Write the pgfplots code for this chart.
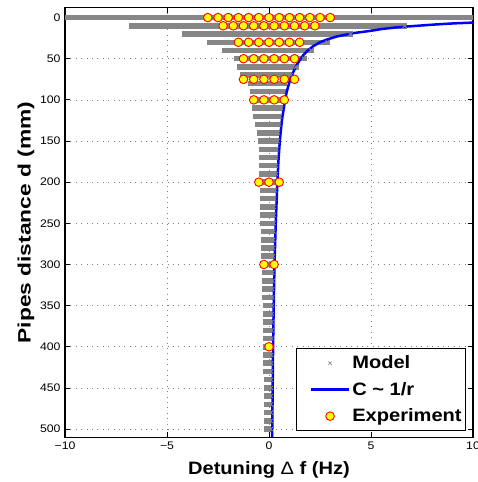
\documentclass[border=0pt]{standalone}
\usepackage{pgfplots}
\pgfplotsset{compat=1.18}
\usepackage{pgfplotstable}
\usepackage{fontspec}
\setmainfont{Liberation Sans}[FakeStretch=1.12]
\newfontfamily\ylabfont{Liberation Sans}[FakeStretch=1.27]

\definecolor{modelgray}{RGB}{134,134,134}
\definecolor{expfill}{RGB}{255,255,0}
\definecolor{expedge}{RGB}{255,0,0}

% Model: spread of simulated detuning for each pipe distance (row extent)
\pgfplotstableread{
d   lo     hi
0   -12.00 12.00
10  -6.84  6.78
20  -4.26  4.13
30  -3.04  3.00
40  -2.31  2.20
50  -1.74  1.85
60  -1.55  1.45
70  -1.41  1.19
80  -1.02  0.90
90  -0.92  0.82
100 -0.85  0.80
110 -0.84  0.72
120 -0.76  0.66
130 -0.67  0.63
140 -0.60  0.57
150 -0.53  0.55
160 -0.51  0.50
170 -0.50  0.48
180 -0.50  0.47
190 -0.48  0.47
200 -0.45  0.46
210 -0.44  0.42
220 -0.43  0.39
230 -0.43  0.37
240 -0.42  0.36
250 -0.42  0.36
260 -0.40  0.35
270 -0.40  0.34
280 -0.38  0.33
290 -0.37  0.32
300 -0.36  0.31
310 -0.35  0.30
320 -0.34  0.30
330 -0.33  0.29
340 -0.32  0.29
350 -0.31  0.28
360 -0.30  0.27
370 -0.30  0.26
380 -0.29  0.26
390 -0.29  0.25
400 -0.28  0.25
410 -0.28  0.24
420 -0.27  0.24
430 -0.27  0.23
440 -0.26  0.23
450 -0.26  0.23
460 -0.26  0.22
470 -0.25  0.22
480 -0.25  0.22
490 -0.25  0.21
500 -0.25  0.21
}\modeltab

% Fitted C ~ 1/r curve
\pgfplotstableread{
f     d
11.0  5.5
10.1  6
9.1   7
8.4   8
7.8   9
6.76  10.9
6.2   12
5.5   14
4.96  16.2
4.1   19
3.32  23
2.8   27
2.5   30
2.18  34.5
1.9   40
1.7   45
1.53  50.8
1.3   60
1.04  75
0.87  90
0.79  100
0.63  125
0.53  150
0.46  175
0.41  200
0.33  250
0.27  300
0.23  350
0.20  400
0.18  450
0.155 510
}\fittab

% Measured detuning
\pgfplotstableread{
f     d
-3.00 0
-2.50 0
-2.00 0
-1.50 0
-1.00 0
-0.50 0
0.00  0
0.50  0
1.00  0
1.50  0
2.00  0
2.50  0
3.00  0
-2.25 10
-1.75 10
-1.25 10
-0.75 10
-0.25 10
0.25  10
0.75  10
1.25  10
1.75  10
2.25  10
-1.50 30
-1.00 30
-0.50 30
0.00  30
0.50  30
1.00  30
1.50  30
-1.25 50
-0.75 50
-0.25 50
0.25  50
0.75  50
1.25  50
-1.25 75
-0.75 75
-0.25 75
0.25  75
0.75  75
1.25  75
-0.75 100
-0.25 100
0.25  100
0.75  100
-0.50 200
0.00  200
0.50  200
-0.25 300
0.25  300
0.00  400
}\exptab

\begin{document}
\begin{tikzpicture}
\begin{axis}[
  name=ax,
  width=408bp, height=429.6bp, scale only axis,
  xmin=-10, xmax=10, ymin=-12, ymax=510,
  y dir=reverse,
  xtick={-10,-5,0,5,10},
  xticklabels={−10,−5,0,5,10},
  ytick={0,50,...,500},
  /pgf/number format/assume math mode=true,
  grid=major,
  major grid style={line width=0.7bp, black!50, dash pattern=on 0.8bp off 4.6bp},
  tick align=inside,
  xtick pos=both, ytick pos=both,
  xticklabel pos=bottom, yticklabel pos=left,
  major tick length=5bp,
  axis line style={line width=1.2bp},
  every tick/.style={black, line width=0.8bp},
  tick label style={font=\fontsize{11}{13}\selectfont},
  yticklabel style={xshift=-1bp},
  xticklabel style={yshift=-1bp},
  xlabel={Detuning {\mdseries Δ} f (Hz)},
  ylabel={\ylabfont\bfseries Pipes distance d (mm)},
  label style={font=\bfseries\fontsize{18}{21}\selectfont},
  xlabel style={at={(axis description cs:0.5,0)}, anchor=base, yshift=-36.7bp},
  ylabel style={at={(axis description cs:-0.0954,0.5)}, anchor=center},
  legend cell align=left,
  legend style={at={(0.983,0.014)}, anchor=south east, draw=black,
    line width=0.8bp, fill=white,
    font=\bfseries\fontsize{18}{21}\selectfont,
    inner xsep=2bp, inner ysep=5.5bp, row sep=8bp},
  legend image code/.code={%
    \path (-11bp,0bp);
    \draw[mark repeat=2,mark phase=2,#1]
      plot coordinates {(0bp,0bp) (19bp,0bp) (38bp,0bp)};},
]
% legend sample for the model points
\addlegendimage{only marks, mark=x, mark size=2.3bp, modelgray, line width=0.6bp}
\addlegendentry{Model}

% model rows as dense gray bands
\addplot[draw=none, mark=none, forget plot,
  error bars/.cd, x dir=plus, x explicit, error mark=none,
  error bar style={line width=5.5bp, color=modelgray}]
  table[x=lo, y=d, x error expr=\thisrow{hi}-\thisrow{lo}] {\modeltab};
% ragged ends of the model rows
\addplot[only marks, mark=x, mark size=2.8bp, modelgray, line width=0.9bp, forget plot]
  table[x expr=\thisrow{lo}+0.13, y=d] {\modeltab};
\addplot[only marks, mark=x, mark size=2.8bp, modelgray, line width=0.9bp, forget plot]
  table[x expr=\thisrow{hi}-0.13, y=d] {\modeltab};

\addplot[blue, line width=2.5bp, mark=none] table[x=f, y=d] {\fittab};
\addlegendentry{C \textasciitilde{} 1/r}

\addplot[only marks, mark=*, mark size=4.3bp,
  mark options={fill=expfill, draw=expedge, line width=0.9bp}]
  table[x=f, y=d] {\exptab};
\addlegendentry{Experiment}
\end{axis}
\pgfresetboundingbox
\path[use as bounding box] ([xshift=-65bp,yshift=-44.7bp]ax.south west)
  rectangle ([xshift=5bp,yshift=7.7bp]ax.north east);
\end{tikzpicture}
\end{document}
